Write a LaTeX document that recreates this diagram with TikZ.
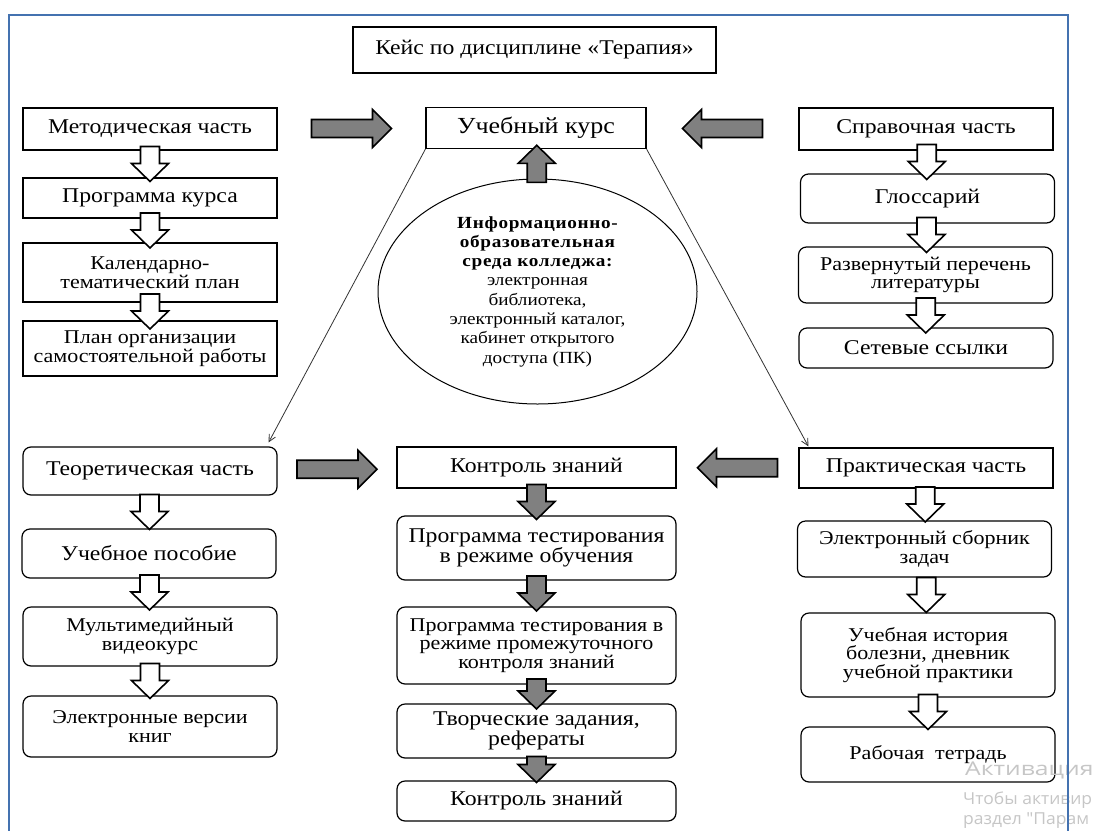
\documentclass[tikz,border=0pt]{standalone}
\usepackage{fontspec}
\setmainfont{Liberation Serif}[FakeStretch=1.13]
\newfontfamily\wmfont{Open Sans}[FakeStretch=1.3]
\newfontfamily\wmsmall{Open Sans}[FakeStretch=1.06]
\usetikzlibrary{calc,arrows.meta,shapes.geometric}

\definecolor{frameblue}{RGB}{68,114,176}
\definecolor{arrgray}{RGB}{128,128,128}
\definecolor{wmgray}{RGB}{198,198,198}

\newcommand{\boldsp}[1]{{\addfontfeatures{LetterSpace=4}\bfseries #1}}

\tikzset{
  sq/.style={draw, line width=1.2pt, minimum width=254, align=center, inner sep=2pt,
    font=\fontsize{21}{19}\selectfont},
  rnd/.style={sq, rounded corners=8pt},
  smalltxt/.style={font=\fontsize{19.5}{18.5}\selectfont},
  hollowarr/.style={draw, line width=1.6pt, fill=white},
  darkarr/.style={draw, line width=1.6pt, fill=arrgray},
  link/.style={line width=0.8pt, black!80, -{Straight Barb[length=7pt,width=7pt]}},
  wm/.style={wmgray, anchor=base west, inner sep=0pt, font=\wmsmall\fontsize{16.5}{16.5}\selectfont}
}

% block arrow along y, centred between two points
\newcommand{\vblock}[4]{%
  \draw[#1] let \p1=(#2), \p2=(#3), \p3=($(#2)!.5!(#3)$),
      \n1={((\y2)-(\y1))/abs((\y2)-(\y1))} in
    (\x3-9.5pt,{\y3-(\n1)*#4pt}) -- (\x3-9.5pt,{\y3+(\n1)*(#4pt-18pt)})
    -- (\x3-18.5pt,{\y3+(\n1)*(#4pt-18pt)}) -- (\x3,{\y3+(\n1)*#4pt})
    -- (\x3+18.5pt,{\y3+(\n1)*(#4pt-18pt)}) -- (\x3+9.5pt,{\y3+(\n1)*(#4pt-18pt)})
    -- (\x3+9.5pt,{\y3-(\n1)*#4pt}) -- cycle;}
% block arrow along x, centred between two points
\newcommand{\hblock}[4]{%
  \draw[#1] let \p1=(#2), \p2=(#3), \p3=($(#2)!.5!(#3)$),
      \n1={((\x2)-(\x1))/abs((\x2)-(\x1))} in
    ({\x3-(\n1)*#4pt},\y3-9pt) -- ({\x3+(\n1)*(#4pt-19pt)},\y3-9pt)
    -- ({\x3+(\n1)*(#4pt-19pt)},\y3-19pt) -- ({\x3+(\n1)*#4pt},\y3)
    -- ({\x3+(\n1)*(#4pt-19pt)},\y3+19pt) -- ({\x3+(\n1)*(#4pt-19pt)},\y3+9pt)
    -- ({\x3-(\n1)*#4pt},\y3+9pt) -- cycle;}

\begin{document}
\begin{tikzpicture}[x=1pt, y=-1pt]
  \useasboundingbox (0,0) rectangle (1099,830);
  \clip (0,0) rectangle (1099,830);
  \fill[white] (0,0) rectangle (1099,830);

  % title
  \node[sq, minimum width=363, minimum height=46] (title) at (534.5,50) {Кейс по дисциплине «Терапия»};

  % methodical part
  \node[sq, minimum height=42] (m1) at (150,129) {Методическая часть};
  \node[sq, minimum height=40] (m2) at (150,198) {Программа курса};
  \node[sq, smalltxt, minimum height=59] (m3) at (150,272.5) {Календарно-\\тематический план};
  \node[sq, smalltxt, minimum height=55] (m4) at (150,348.5) {План организации\\самостоятельной работы};

  % course and environment
  \node[sq, minimum width=220, minimum height=41, font=\fontsize{23}{23}\selectfont] (uk) at (536,128) {Учебный курс};
  \node[draw, ellipse, line width=1pt, minimum width=319, minimum height=225, inner sep=0pt,
    align=center, font=\fontsize{17}{19.3}\selectfont] (ell) at (537.5,291.5)
    {\boldsp{Информационно-}\\\boldsp{образовательная}\\\boldsp{среда колледжа:}\\электронная\\библиотека,\\электронный каталог,\\кабинет открытого\\доступа (ПК)};

  % reference part
  \node[sq, minimum height=42] (s1) at (926,129) {Справочная часть};
  \node[rnd, minimum height=49] (s2) at (927.5,198.5) {Глоссарий};
  \node[rnd, smalltxt, minimum height=56] (s3) at (925.5,275) {Развернутый перечень\\литературы};
  \node[rnd, minimum height=40] (s4) at (926,348) {Сетевые ссылки};

  % theoretical part
  \node[rnd, minimum height=48] (t1) at (150,471) {Теоретическая часть};
  \node[rnd, minimum height=49] (t2) at (149,553.5) {Учебное пособие};
  \node[rnd, smalltxt, minimum height=59] (t3) at (150,636.5) {Мультимедийный\\видеокурс};
  \node[rnd, smalltxt, minimum height=61] (t4) at (150,726.5) {Электронные версии\\книг};

  % knowledge control
  \node[sq, minimum width=279, minimum height=41] (k0) at (536.5,467.5) {Контроль знаний};
  \node[rnd, minimum width=279, minimum height=64] (k1) at (536.5,548) {Программа тестирования\\в режиме обучения};
  \node[rnd, smalltxt, minimum width=279, minimum height=77] (k2) at (536.5,645.5) {Программа тестирования в\\режиме промежуточного\\контроля знаний};
  \node[rnd, minimum width=279, minimum height=54] (k3) at (536.5,731) {Творческие задания,\\рефераты};
  \node[rnd, minimum width=279, minimum height=40] (k4) at (536.5,801) {Контроль знаний};

  % practical part
  \node[sq, minimum height=40] (p0) at (926,468) {Практическая часть};
  \node[rnd, smalltxt, minimum height=56] (p1) at (924.5,549) {Электронный сборник\\задач};
  \node[rnd, smalltxt, minimum height=84] (p2) at (928,655) {Учебная история\\болезни, дневник\\учебной практики};
  \node[rnd, smalltxt, minimum height=55] (p3) at (928,754.5) {Рабочая\ \ тетрадь};

  % hollow arrows down the columns
  \foreach \a/\b/\dx in {m1/m2/-5, m2/m3/-5, m3/m4/-4, t1/t2/-4, t2/t3/-4, t3/t4/-3,
      s1/s2/0, s2/s3/5, s3/s4/6, p0/p1/7, p1/p2/7, p2/p3/5}
    \vblock{hollowarr, xshift=\dx}{\a.south}{\b.north}{17.5};

  % dark arrows
  \foreach \a/\b/\dy/\h in {k0/k1/0/17.5, k1/k2/-4/17.5, k2/k3/-4/15, k3/k4/0/13}
    \vblock{darkarr, yshift=\dy}{\a.south}{\b.north}{\h};
  \vblock{darkarr}{ell.north}{uk.south}{18.5};
  \hblock{darkarr, yshift=-2}{m1.east}{uk.west}{40};
  \hblock{darkarr}{s1.west}{uk.east}{40};
  \hblock{darkarr}{t1.east}{k0.west}{40};
  \hblock{darkarr}{p0.west}{k0.east}{40};

  % thin links
  \draw[link] (uk.south west) -- ($(t1.north east)+(-9,-4)$);
  \draw[link] (uk.south east) -- ($(p0.north west)+(10,-1)$);

  % watermark
  \node[wm, font=\wmfont\fontsize{19}{19}\selectfont] (wm1) at (965,775) {Активация};
  \node[wm] (wm2) at (963,804) {Чтобы активир};
  \node[wm] (wm3) at (963,824) {раздел "Парам};

  % frame
  \draw[frameblue, line width=2.5pt] (9,850) -- (9,15) -- (1068,15) -- (1068,850);
\end{tikzpicture}
\end{document}
